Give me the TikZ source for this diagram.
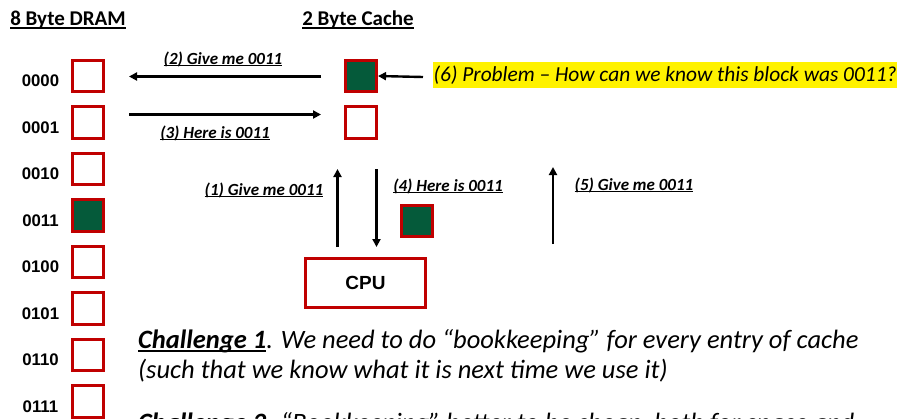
\documentclass[tikz,border=0pt]{standalone}
\usepackage{fontspec}
\setmainfont{Carlito}
\newfontfamily\arialfont{Liberation Sans}
\usetikzlibrary{arrows.meta}
\definecolor{boxred}{RGB}{192,0,0}
\definecolor{blockgreen}{RGB}{5,90,58}
\newcommand\myul[1]{\setbox0\hbox{#1}\rlap{\rule[-0.14em]{\wd0}{0.07em}}\box0}
\begin{document}
\begin{tikzpicture}[x=1pt,y=-1pt,
  cell/.style={draw=boxred, line width=2.6pt, minimum size=31.5pt, inner sep=0pt, outer sep=0pt},
  full/.style={cell, fill=blockgreen},
  addr/.style={font=\arialfont\bfseries\fontsize{16.8}{18}\selectfont, inner sep=0pt},
  title/.style={font=\bfseries\fontsize{21}{24}\selectfont, inner sep=0pt},
  lbl/.style={font=\bfseries\itshape\fontsize{17}{20}\selectfont, inner sep=0pt},
  arr/.style={line width=2.4pt, -{Triangle[length=8pt,width=8pt]}},
  body/.style={font=\itshape\fontsize{26.5}{30}\selectfont, anchor=base west, inner sep=0pt}
]
\clip (0,0) rectangle (900,418);
\fill[white] (0,0) rectangle (900,418);

% titles
\node[title] (t1) at (68,20) {\myul{8 Byte DRAM}};
\node[title] (t2) at (358,20) {\myul{2 Byte Cache}};

% DRAM
\node[cell] (d0) at (88,76) {};
\node[cell] (d1) at (88,122.5) {};
\node[cell] (d2) at (88,169) {};
\node[full] (d3) at (88,215.5) {};
\node[cell] (d4) at (88,262) {};
\node[cell] (d5) at (88,308.5) {};
\node[cell] (d6) at (88,355) {};
\node[cell] (d7) at (88,401.5) {};
\node[addr] (a0) at (40.5,81) {0000};
\node[addr] (a1) at (40.5,127.5) {0001};
\node[addr] (a2) at (40.5,174) {0010};
\node[addr] (a3) at (40.5,220.5) {0011};
\node[addr] (a4) at (40.5,267) {0100};
\node[addr] (a5) at (40.5,313.5) {0101};
\node[addr] (a6) at (40.5,360) {0110};
\node[addr] (a7) at (40.5,406.5) {0111};

% cache
\node[full] (c0) at (361,76) {};
\node[cell] (c1) at (361,122.5) {};

% CPU
\node[draw=boxred, line width=2.6pt, minimum width=120pt, minimum height=49.5pt, inner sep=0pt,
  font=\arialfont\bfseries\fontsize{19}{22}\selectfont] (cpu) at (365.5,283) {CPU};

% moving block
\node[full] (m) at (417,221) {};

% horizontal arrows
\coordinate (p2s) at (321,76.5);
\coordinate (p2e) at (129,76.5);
\coordinate (p3s) at (129,114.5);
\coordinate (p3e) at (321,114.5);
\draw[arr] (p2s) -- (p2e);
\draw[arr] (p3s) -- (p3e);
\node[lbl] (l2) at (223,59) {\myul{(2) Give me 0011}};
\node[lbl] (l3) at (215,133) {\myul{(3) Here is 0011}};

% problem
\coordinate (p6) at (423,77);
\draw[arr] (p6) -- ([xshift=1.3pt]c0.east);
\node[fill=yellow, anchor=west, inner xsep=0.5pt, inner ysep=0pt, minimum height=26pt,
  font=\itshape\fontsize{21.4}{24}\selectfont] (q6) at (433,75) {(6) Problem – How can we know this block was 0011?};

% vertical arrows
\coordinate (v1s) at (337.5,247);
\coordinate (v1e) at (337.5,169);
\coordinate (v4s) at (376.5,169);
\coordinate (v4e) at (376.5,247);
\coordinate (v5s) at (553,244);
\coordinate (v5e) at (553,167);
\draw[arr] (v1s) -- (v1e);
\draw[arr] (v4s) -- (v4e);
\draw[arr] (v5s) -- (v5e);
\node[lbl] (l1) at (264,190) {\myul{(1) Give me 0011}};
\node[lbl] (l4) at (448,186) {\myul{(4) Here is 0011}};
\node[lbl] (l5) at (634,185) {\myul{(5) Give me 0011}};

% challenges
\node[body] (ch1) at (138,348) {\myul{\bfseries Challenge 1}. We need to do “bookkeeping” for every entry of cache};
\node[body] (ch1b) at (138,378.5) {(such that we know what it is next time we use it)};
\node[body] (ch2) at (138,431) {\myul{\bfseries Challenge 2}. “Bookkeeping” better to be cheap, both for space and};
\end{tikzpicture}
\end{document}
